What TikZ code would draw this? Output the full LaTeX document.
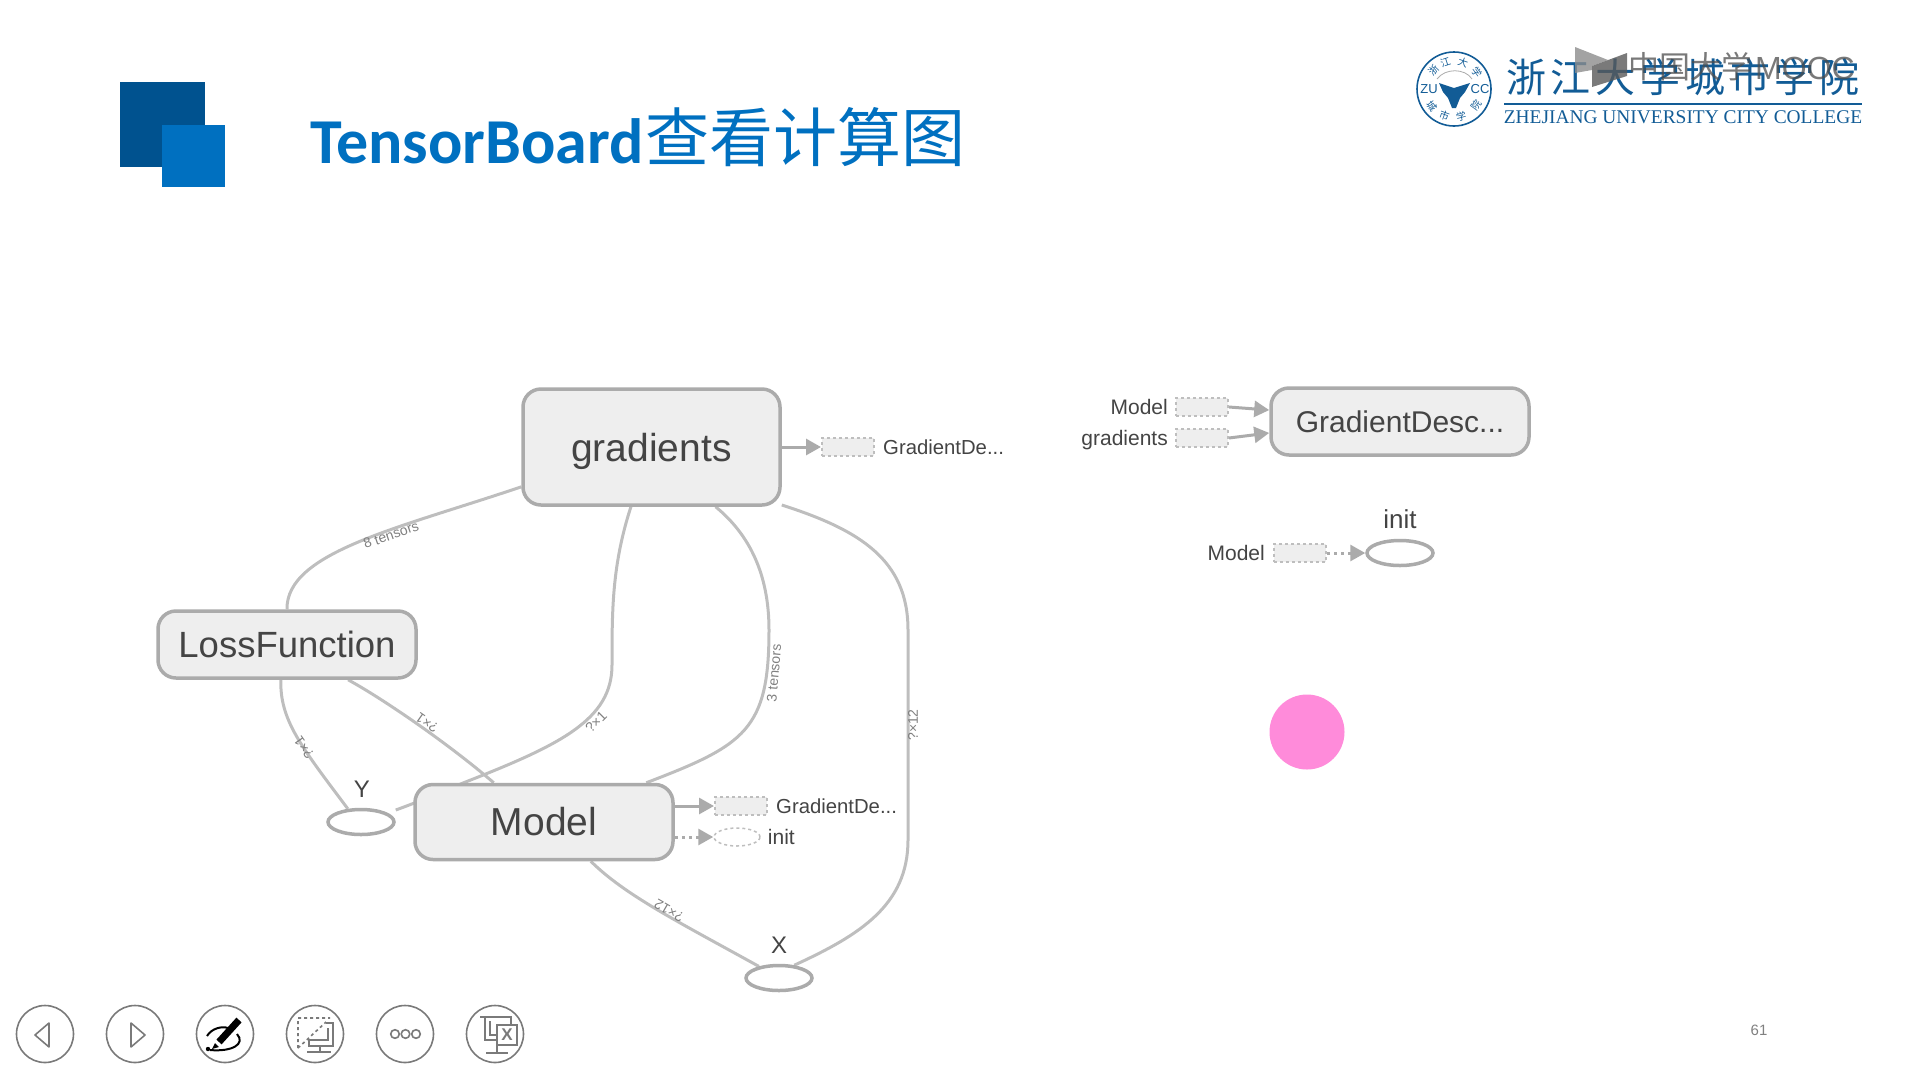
\documentclass[tikz,border=0pt]{standalone}
\usepackage{fontspec}
\setmainfont{Liberation Sans}
\newfontfamily\cjk{Noto Sans CJK SC}
\newfontfamily\titlefont{Carlito}
\newfontfamily\collegefont{Liberation Serif}
\usetikzlibrary{positioning,calc,shapes.geometric,arrows.meta,backgrounds}
\newcommand{\fsize}[1]{\fontsize{#1}{#1}\selectfont}
\definecolor{txtgray}{HTML}{444444}
\definecolor{linegray}{HTML}{ABABAB}
\definecolor{edgegray}{HTML}{BEBEBE}
\definecolor{boxfill}{HTML}{EEEEEE}
\definecolor{titleblue}{HTML}{0070C0}
\definecolor{darkblue}{HTML}{00528F}
\definecolor{logoblue}{HTML}{125C96}
\definecolor{iconline}{HTML}{7A7A7A}
\definecolor{pointerpink}{HTML}{FF8BDA}
\tikzset{
  opbox/.style={draw=linegray,fill=boxfill,line width=3.5pt,rounded corners=18pt,text=txtgray,inner sep=0pt},
  opellipse/.style={draw=linegray,fill=white,line width=3.5pt,ellipse,minimum width=66pt,minimum height=25pt,inner sep=0pt},
  stubbox/.style={draw=edgegray,fill=boxfill,line width=2pt,dash pattern=on 3pt off 3pt,minimum width=52pt,minimum height=18pt,inner sep=0pt},
  stubellipse/.style={draw=edgegray,fill=white,line width=1.5pt,dash pattern=on 3pt off 3pt,ellipse,minimum width=46pt,minimum height=18pt,inner sep=0pt},
  flow/.style={edgegray,line width=3pt},
  toarrow/.style={linegray,line width=3pt,-{Triangle[length=15pt,width=16pt]}},
  ctrlarrow/.style={toarrow,dash pattern=on 3pt off 4pt},
  edgetxt/.style={text=gray,font=\fsize{14},inner sep=0pt},
  smalltxt/.style={text=txtgray,font=\fsize{21},inner sep=0pt},
  stubtxt/.style={text=txtgray,font=\fsize{20.3},inner sep=0pt},
  opname/.style={text=txtgray,font=\fsize{24},inner sep=0pt},
  toolcircle/.style={draw=iconline,line width=1.6pt,circle,minimum size=57pt,inner sep=0pt},
  toolline/.style={iconline,line width=1.6pt},
  logochar/.style={text=logoblue,font=\cjk\fsize{40},inner sep=0pt},
  sealchar/.style={text=logoblue,font=\cjk\fsize{10},inner sep=0pt},
  markchar/.style={text=black!70,opacity=.75,inner sep=0pt}
}
\begin{document}
\begin{tikzpicture}[x=1pt,y=-1pt]
    \useasboundingbox (0,0) rectangle (1920,1080);

    % heading
    \fill[darkblue] (120,82) rectangle (205,167);
    \fill[titleblue] (162,125) rectangle (225,187);
    \node [anchor=base west,inner sep=0pt,text=titleblue,font=\titlefont\bfseries\fsize{64}] (title) at (310,163) {TensorBoard};
    \node [anchor=base west,inner sep=0pt,text=titleblue,font=\cjk\fsize{64}] (titlecn) at (645,161) {查看计算图};

    % logo
    \node [draw=logoblue,line width=1.6pt,circle,minimum size=74pt,inner sep=0pt] (seal) at (1454,89) {};
    \draw[linegray,line width=.8pt] (1437,79) .. controls (1445,68) and (1465,68) .. (1472,79);
    \fill[logoblue] (1439,83) -- (1454,88) -- (1470,83) -- (1465,92) -- (1460,98) -- (1456,108) -- (1452,108) -- (1448,98) -- (1443,92) -- cycle;
    \node [text=logoblue,font=\fsize{13},inner sep=0pt] (zu) at (1429,89) {ZU};
    \node [text=logoblue,font=\fsize{13},inner sep=0pt] (cc) at (1480,89) {CC};
    \foreach \ch/\ang in {浙/137,江/108,大/71,学/36}
        \node [sealchar,rotate=\ang-90] at ($(seal)+(\ang:28pt)$) {\ch};
    \foreach \ch/\ang in {城/217,市/250,学/285,院/324}
        \node [sealchar,rotate=\ang+90] at ($(seal)+(\ang:28pt)$) {\ch};
    \foreach \ch [count=\i from 0] in {浙,江,大,学,城,市,学,院}
        \node [logochar] at (1526+\i*44.8,77) {\ch};
    \draw[logoblue,line width=1.2pt] (1504,104) -- (1862,104);
    \node [text=logoblue,inner sep=0pt,font=\collegefont\fsize{19.4}] (college) at (1683,117) {ZHEJIANG UNIVERSITY CITY COLLEGE};

    % mooc mark
    \fill[black!45,opacity=.8] (1575,47) -- (1608,60) -- (1592,66) -- (1592,70) -- (1575,73) -- cycle;
    \fill[black!65,opacity=.8] (1592,66) -- (1627,53) -- (1627,76) -- (1592,87) -- cycle;
    \node [markchar,anchor=west,font=\cjk\fsize{31}] (markcn) at (1628,67) {中国大学};
    \node [markchar,anchor=west,font=\fsize{32}] (markla) at (1755,68) {MOOC};

    % graph on the left
    \node [opbox,minimum width=257pt,minimum height=116pt,font=\fsize{39},text depth=0pt] (gradients) at (651.5,447) {gradients};
    \node [opbox,minimum width=258pt,minimum height=67pt,font=\fsize{36.5}] (lossfn) at (287,644.5) {LossFunction};
    \node [opbox,minimum width=258pt,minimum height=75pt,font=\fsize{39}] (model) at (544,822) {Model};
    \node [opellipse] (Y) at (361,822) {};
    \node [opellipse] (X) at (779,978) {};
    \node [opname] (Ylab) at (362,789) {Y};
    \node [opname] (Xlab) at (779,945) {X};

    \node [stubbox] (gradOut) at (848,447) {};
    \node [stubtxt,right =8pt of gradOut] (gradOutlab) {GradientDe...};
    \node [stubbox] (modelOut) at (741,806) {};
    \node [stubtxt,right =8pt of modelOut] (modelOutlab) {GradientDe...};
    \node [stubellipse] (initOut) at (737,837) {};
    \node [smalltxt,right =7pt of initOut] (initOutlab) {init};

    \begin{scope}[on background layer]
    \draw[flow] (gradients.197) .. controls (400,528) and (286,552) .. (lossfn.north);
    \draw[flow] (gradients.251) .. controls (612,565) and (612,610) .. (612,665)
        .. controls (612,720) and (560,745) .. (463,783)
        .. controls (435,795) and (415,803) .. ($(Y.east)+(0,-12)$);
    \draw[flow] (gradients.317) .. controls (750,535) and (769,575) .. (769,630)
        .. controls (769,730) and (745,745) .. (model.21);
    \draw[flow] (gradients.-24) .. controls (860,530) and (908,560) .. (908,630)
        -- (908,840) .. controls (908,905) and (860,935) .. (X.40);
    \draw[flow] (lossfn.260) .. controls (280,720) and (300,745) .. (Y.135);
    \draw[flow] (lossfn.-30) .. controls (385,700) and (450,745) .. (model.142);
    \draw[flow] (model.320) .. controls (625,895) and (675,920) .. (X.150);
    \end{scope}

    \node [edgetxt,rotate=19] (t8) at (391,535) {8 tensors};
    \node [edgetxt,rotate=85] (t3) at (774,673) {3 tensors};
    \node [edgetxt,rotate=90] (t12a) at (913,725) {?×12};
    \node [edgetxt,rotate=150] (t12b) at (669,911) {?×12};
    \node [edgetxt,rotate=45] (t1a) at (596,722) {?×1};
    \node [edgetxt,rotate=145] (t1b) at (427,723) {?×1};
    \node [edgetxt,rotate=125] (t1c) at (304,748) {?×1};

    \draw[toarrow] (gradients.east) -- (gradOut.west);
    \draw[toarrow] (model.east |- modelOut) -- (modelOut.west);
    \draw[ctrlarrow] (model.east |- initOut) -- (initOut.west);

    % graph on the right
    \node [opbox,minimum width=258pt,minimum height=67pt,font=\fsize{30}] (gradDesc) at (1400,421.5) {GradientDesc...};
    \node [stubbox] (inModel) at (1202,407) {};
    \node [stubbox] (inGrad) at (1202,438) {};
    \node [smalltxt,left =7pt of inModel] (inModellab) {Model};
    \node [smalltxt,left =7pt of inGrad,text depth=0pt] (inGradlab) {gradients};
    \draw[toarrow] (inModel.east) -- (gradDesc.175);
    \draw[toarrow] (inGrad.east) -- (gradDesc.185);

    \node [opellipse] (initOp) at (1400,553) {};
    \node [text=txtgray,font=\fsize{26},inner sep=0pt] (initOplab) at (1400,519) {init};
    \node [stubbox] (initIn) at (1300,553) {};
    \node [smalltxt,left =8pt of initIn] (initInlab) {Model};
    \draw[ctrlarrow] (initIn.east) -- (initOp.west);

    % pointer
    \fill[pointerpink] (1307,732) circle (37.5);

    % page number
    \node [text=gray,font=\fsize{15},inner sep=0pt] (pagenum) at (1759,1030) {61};

    % tool bar
    \node [toolcircle] (prev) at (45,1034) {};
    \node [toolcircle] (next) at (135,1034) {};
    \node [toolcircle] (pen) at (225,1034) {};
    \node [toolcircle] (screen) at (315,1034) {};
    \node [toolcircle] (more) at (405,1034) {};
    \node [toolcircle] (leave) at (495,1034) {};
    \draw[toolline,line join=round] (49,1023) -- (35,1035) -- (49,1047) -- cycle;
    \draw[toolline,line join=round] (131,1023) -- (145,1035) -- (131,1047) -- cycle;
    \draw[black,line width=7pt] (239,1020) -- (219,1042);
    \draw[black,line width=2pt] (207,1036) .. controls (212,1028) and (222,1026) .. (228,1028);
    \draw[black,line width=2pt] (237,1034) .. controls (246,1044) and (232,1052) .. (210,1050);
    \fill[black] (208,1049) circle (2.2) (215,1043) -- (219,1047) -- (212,1049) -- cycle;
    \draw[toolline,dash pattern=on 3pt off 3pt] (298,1048) -- (298,1018) -- (330,1018) (298,1048) -- (326,1022);
    \draw[toolline] (326,1023) -- (333,1023) -- (333,1046) -- (309,1046) -- (309,1040) -- (328,1040) -- (328,1028)
        (320,1046) -- (320,1052) (307,1052) -- (331,1052);
    \foreach \dotx in {395,405.5,416}
        \draw[toolline] (\dotx,1034) circle (4.3);
    \draw[toolline] (480,1017) -- (511,1017) -- (511,1024) (485,1017) -- (485,1040) -- (497,1040)
        (490,1021) -- (490,1035) -- (497,1035) (497,1040) -- (497,1053) (486,1053) -- (508,1053);
    \draw[toolline,fill=white] (497,1025) rectangle (517,1045);
    \node [text=iconline,font=\fsize{17}\bfseries,inner sep=0pt] (xmark) at (507,1035) {X};
\end{tikzpicture}
\end{document}
